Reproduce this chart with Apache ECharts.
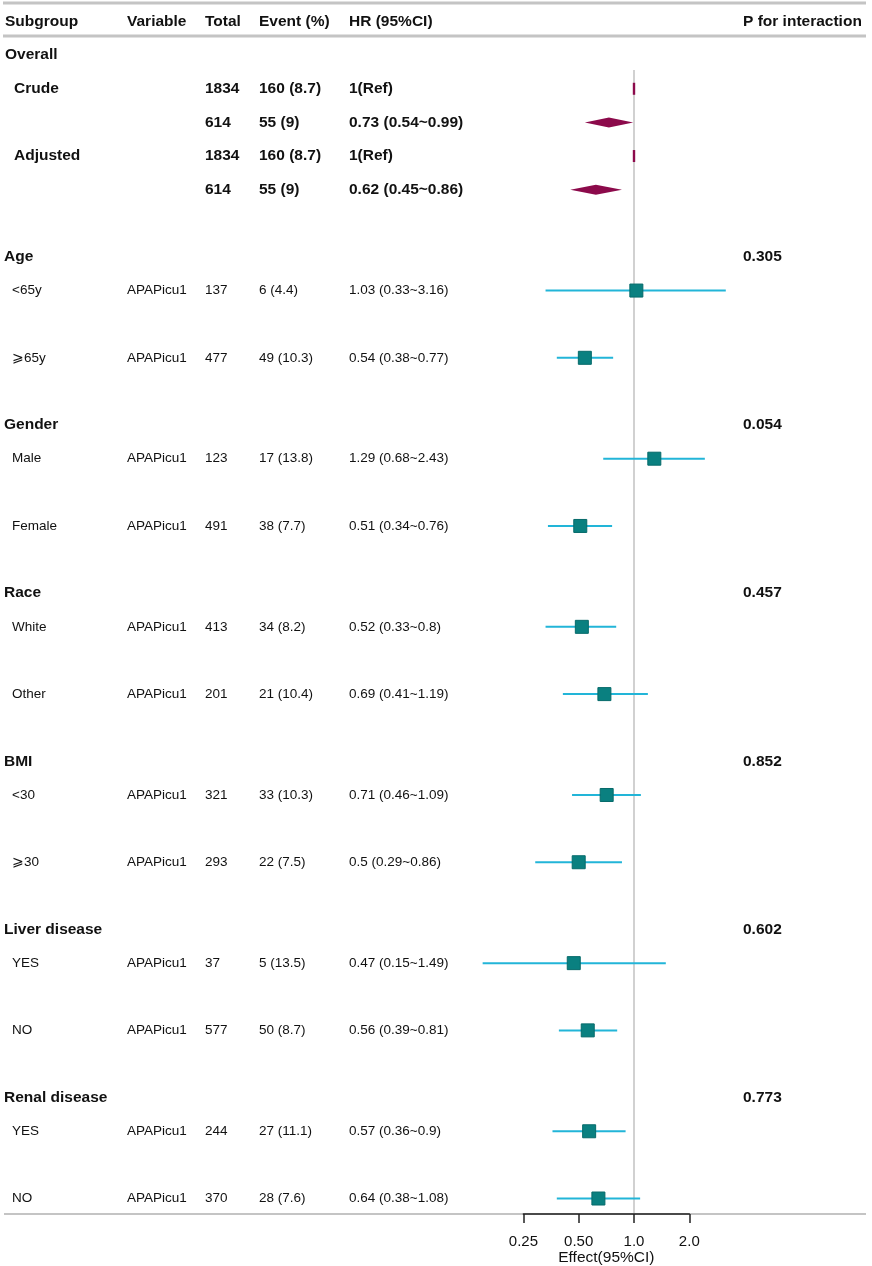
<!DOCTYPE html>
<html>
<head>
<meta charset="utf-8">
<title>Forest plot</title>
<script src="https://cdn.jsdelivr.net/npm/echarts@6/dist/echarts.min.js"></script>
<style>
  html, body { margin: 0; padding: 0; background: #fff; }
  #main { width: 872px; height: 1266px; }
</style>
</head>
<body>
<div id="main"></div>
<script>
// ---- data ----
var headers = ['Subgroup', 'Variable', 'Total', 'Event (%)', 'HR (95%CI)', 'P for interaction'];

// overall block (crude / adjusted)
var overallLabels = ['Crude', '', 'Adjusted', ''];
var overallTotal = ['1834', '614', '1834', '614'];
var overallEvent = ['160 (8.7)', '55 (9)', '160 (8.7)', '55 (9)'];
var overallHR = [1, 0.73, 1, 0.62];
var overallLow = [1, 0.54, 1, 0.45];
var overallHigh = [1, 0.99, 1, 0.86];

// subgroups
var groups = ['Age', 'Gender', 'Race', 'BMI', 'Liver disease', 'Renal disease'];
var pInteraction = ['0.305', '0.054', '0.457', '0.852', '0.602', '0.773'];
var levels = ['<65y', '⩾65y', 'Male', 'Female', 'White', 'Other', '<30', '⩾30', 'YES', 'NO', 'YES', 'NO'];
var variable = 'APAPicu1';
var totals = ['137', '477', '123', '491', '413', '201', '321', '293', '37', '577', '244', '370'];
var events = ['6 (4.4)', '49 (10.3)', '17 (13.8)', '38 (7.7)', '34 (8.2)', '21 (10.4)',
              '33 (10.3)', '22 (7.5)', '5 (13.5)', '50 (8.7)', '27 (11.1)', '28 (7.6)'];
var hr = [1.03, 0.54, 1.29, 0.51, 0.52, 0.69, 0.71, 0.5, 0.47, 0.56, 0.57, 0.64];
var hrLow = [0.33, 0.38, 0.68, 0.34, 0.33, 0.41, 0.46, 0.29, 0.15, 0.39, 0.36, 0.38];
var hrHigh = [3.16, 0.77, 2.43, 0.76, 0.8, 1.19, 1.09, 0.86, 1.49, 0.81, 0.9, 1.08];

// x axis ticks
var tickValues = [0.25, 0.5, 1, 2];
var tickLabels = ['0.25', '0.50', '1.0', '2.0'];
var axisTitle = 'Effect(95%CI)';

// ---- layout ----
var FONT = '"Liberation Sans", Arial, Helvetica, sans-serif';
var colX = [5, 127, 205, 259, 349, 743];
// one table row = 33.63px, plot area is 1214px tall
var rowMin = -0.64, rowMax = 35.46;

function hrText(e, lo, hi) {
  if (e === 1 && lo === 1 && hi === 1) return '1(Ref)';
  return e + ' (' + lo + '~' + hi + ')';
}

// text cells: [x, row, text, kind]
var cells = [];
headers.forEach(function (h, i) { cells.push([colX[i], 0, h, 'head']); });
cells.push([5, 1, 'Overall', 'bold']);
var diamonds = [];
for (var k = 0; k < overallLabels.length; k++) {
  var r = 2 + k;
  if (overallLabels[k]) cells.push([14, r, overallLabels[k], 'bold']);
  cells.push([colX[2], r, overallTotal[k], 'bold']);
  cells.push([colX[3], r, overallEvent[k], 'bold']);
  cells.push([colX[4], r, hrText(overallHR[k], overallLow[k], overallHigh[k]), 'bold']);
  diamonds.push([overallLow[k], overallHR[k], overallHigh[k], r]);
}

var squares = [];
var ciLines = [];
for (var g = 0; g < groups.length; g++) {
  var gr = 7 + 5 * g;
  cells.push([4, gr, groups[g], 'bold']);
  cells.push([colX[5], gr, pInteraction[g], 'bold']);
  for (var j = 0; j < 2; j++) {
    var idx = g * 2 + j;
    var rr = gr + 1 + 2 * j;
    cells.push([12, rr, levels[idx], 'plain']);
    cells.push([colX[1], rr, variable, 'plain']);
    cells.push([colX[2], rr, totals[idx], 'plain']);
    cells.push([colX[3], rr, events[idx], 'plain']);
    cells.push([colX[4], rr, hrText(hr[idx], hrLow[idx], hrHigh[idx]), 'plain']);
    squares.push([hr[idx], rr]);
    ciLines.push([hrLow[idx], hrHigh[idx], rr]);
  }
}

// table rules: [x1, x2, row]
var rules = [[3, 866, -0.55], [3, 866, 0.43], [4, 866, rowMax]];

var fonts = {
  head: 'bold 15.5px ' + FONT,
  bold: 'bold 15.5px ' + FONT,
  plain: '13.5px ' + FONT
};

var chart = echarts.init(document.getElementById('main'), null, { renderer: 'canvas' });

var option = {
  backgroundColor: '#fff',
  animation: false,
  grid: [
    { left: 0, right: 0, top: 0, bottom: 52, outerBoundsMode: 'none', containLabel: false },
    { left: 523.4, right: 182.7, top: 0, bottom: 52, outerBoundsMode: 'none', containLabel: false }
  ],
  xAxis: [
    { gridIndex: 0, type: 'value', min: 0, max: 872, show: false },
    {
      gridIndex: 1, type: 'log', logBase: 2, min: 0.25, max: 2,
      position: 'bottom', z: 10,
      axisLine: { onZero: false, lineStyle: { color: '#222', width: 1.5 } },
      axisTick: { show: true, length: 9, lineStyle: { color: '#222', width: 1.5 } },
      splitLine: { show: false },
      axisLabel: {
        margin: 20, color: '#111', fontSize: 15, fontFamily: FONT,
        formatter: function (v) {
          for (var i = 0; i < tickValues.length; i++) {
            if (Math.abs(v - tickValues[i]) < 1e-6) return tickLabels[i];
          }
          return '';
        }
      },
      name: axisTitle, nameLocation: 'middle', nameGap: 36, nameMoveOverlap: false,
      nameTextStyle: { color: '#111', fontSize: 15.5, fontFamily: FONT }
    }
  ],
  yAxis: [
    { gridIndex: 0, type: 'value', inverse: true, min: rowMin, max: rowMax, show: false },
    { gridIndex: 1, type: 'value', inverse: true, min: rowMin, max: rowMax, show: false }
  ],
  series: [
    // table rules
    {
      type: 'custom', xAxisIndex: 0, yAxisIndex: 0, silent: true, z: 1,
      data: rules,
      renderItem: function (params, api) {
        var a = api.coord([api.value(0), api.value(2)]);
        var b = api.coord([api.value(1), api.value(2)]);
        return {
          type: 'line',
          shape: { x1: a[0], y1: a[1], x2: b[0], y2: b[1] },
          style: { stroke: '#c4c4c4', lineWidth: params.dataIndex === 2 ? 2 : 3 }
        };
      }
    },
    // table text
    {
      type: 'custom', xAxisIndex: 0, yAxisIndex: 0, silent: true, z: 5,
      data: cells.map(function (c) { return [c[0], c[1]]; }),
      renderItem: function (params, api) {
        var c = cells[params.dataIndex];
        var p = api.coord([c[0], c[1]]);
        return {
          type: 'text',
          x: p[0], y: p[1],
          style: {
            text: c[2], font: fonts[c[3]], fill: '#111',
            align: 'left', verticalAlign: 'middle',
            textAlign: 'left', textVerticalAlign: 'middle'
          }
        };
      }
    },
    // reference line at 1
    {
      type: 'line', xAxisIndex: 1, yAxisIndex: 1, silent: true, z: 2,
      symbol: 'none',
      lineStyle: { color: '#c2c2c2', width: 1.5 },
      data: [[1, 1.44], [1, rowMax]]
    },
    // CI whiskers
    {
      type: 'custom', xAxisIndex: 1, yAxisIndex: 1, silent: true, z: 3, clip: false,
      data: ciLines,
      renderItem: function (params, api) {
        var a = api.coord([api.value(0), api.value(2)]);
        var b = api.coord([api.value(1), api.value(2)]);
        return {
          type: 'line',
          shape: { x1: a[0], y1: a[1], x2: b[0], y2: b[1] },
          style: { stroke: '#22b5d8', lineWidth: 2 }
        };
      }
    },
    // point estimates
    {
      type: 'scatter', xAxisIndex: 1, yAxisIndex: 1, silent: true, z: 4,
      symbol: 'rect', symbolSize: 13,
      itemStyle: { color: '#0a8080', borderColor: '#066a6a', borderWidth: 1, opacity: 1 },
      data: squares
    },
    // overall diamonds
    {
      type: 'custom', xAxisIndex: 1, yAxisIndex: 1, silent: true, z: 4, clip: false,
      data: diamonds,
      renderItem: function (params, api) {
        var lo = api.coord([api.value(0), api.value(3)]);
        var mid = api.coord([api.value(1), api.value(3)]);
        var hi = api.coord([api.value(2), api.value(3)]);
        var h = 5;
        if (hi[0] - lo[0] < 2) {
          return {
            type: 'rect',
            shape: { x: mid[0] - 1.2, y: mid[1] - 6, width: 2.4, height: 12 },
            style: { fill: '#8c0a4b' }
          };
        }
        return {
          type: 'polygon',
          shape: { points: [[lo[0], mid[1]], [mid[0], mid[1] - h], [hi[0], mid[1]], [mid[0], mid[1] + h]] },
          style: { fill: '#8c0a4b' }
        };
      }
    }
  ]
};

chart.setOption(option);
</script>
</body>
</html>
